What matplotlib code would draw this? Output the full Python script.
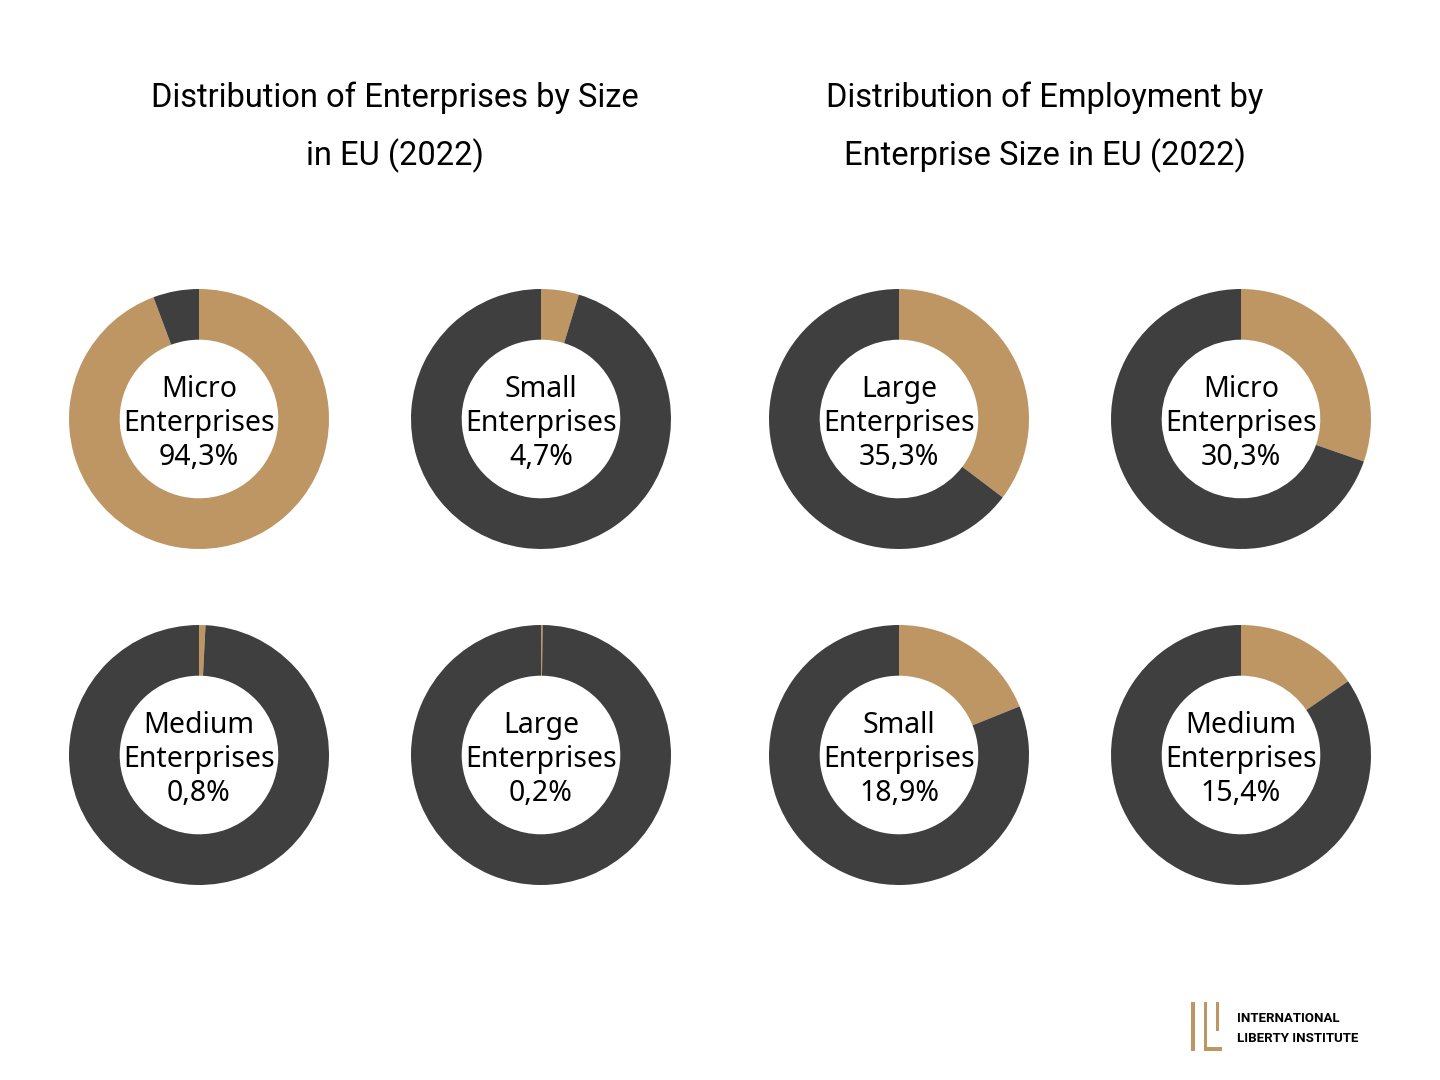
import matplotlib.pyplot as plt
from matplotlib.patches import Rectangle

# data
enterprise_labels = ['Micro\nEnterprises', 'Small\nEnterprises', 'Medium\nEnterprises', 'Large\nEnterprises']
enterprise_share = [94.3, 4.7, 0.8, 0.2]
employment_labels = ['Large\nEnterprises', 'Micro\nEnterprises', 'Small\nEnterprises', 'Medium\nEnterprises']
employment_share = [35.3, 30.3, 18.9, 15.4]
titles = ['Distribution of Enterprises by Size\nin EU (2022)',
          'Distribution of Employment by\nEnterprise Size in EU (2022)']

TAN = '#BD9664'
DARK = '#3F3F3F'
W, H = 1440, 1080

plt.rcParams['font.family'] = ['Noto Sans', 'DejaVu Sans']
fig = plt.figure(figsize=(W / 100, H / 100), dpi=100)
fig.patch.set_facecolor('white')


def donut(cx, cy, value, label):
  r = 130
  ax = fig.add_axes([(cx - r) / W, 1 - (cy + r) / H, 2 * r / W, 2 * r / H])
  ax.pie([value, 100 - value], colors=[TAN, DARK], startangle=90, counterclock=False,
         radius=1.0, wedgeprops=dict(width=0.39, linewidth=0))
  ax.set_xlim(-1, 1)
  ax.set_ylim(-1, 1)
  ax.set_aspect('equal')
  ax.axis('off')
  txt = label + '\n' + ('%.1f' % value).replace('.', ',') + '%'
  ax.text(0, -0.035, txt, ha='center', va='center', fontsize=20.5, linespacing=1.22,
          color='black')


xs_left = [199, 541]
xs_right = [899, 1241]
ys = [419, 755]
for i in range(4):
  donut(xs_left[i % 2], ys[i // 2], enterprise_share[i], enterprise_labels[i])
  donut(xs_right[i % 2], ys[i // 2], employment_share[i], employment_labels[i])

title_font = ['Roboto', 'DejaVu Sans']
fig.text(395 / W, 1 - 127 / H, titles[0], ha='center', va='center', fontsize=23.5,
         family=title_font, linespacing=1.9)
fig.text(1045 / W, 1 - 127 / H, titles[1], ha='center', va='center', fontsize=23.5,
         family=title_font, linespacing=1.9)

# logo
def px_rect(x0, y0, x1, y1):
  fig.patches.append(Rectangle((x0 / W, 1 - y1 / H), (x1 - x0) / W, (y1 - y0) / H,
                               transform=fig.transFigure, color=TAN, linewidth=0))

px_rect(1191, 1002, 1195, 1051)
px_rect(1204, 1002, 1207, 1051)
px_rect(1204, 1047, 1222, 1051)
px_rect(1216, 1002, 1219, 1031)
fig.text(1237 / W, 1 - 1018 / H, 'INTERNATIONAL', ha='left', va='center', fontsize=9.5,
         weight='bold', family=title_font)
fig.text(1237 / W, 1 - 1038 / H, 'LIBERTY INSTITUTE', ha='left', va='center', fontsize=9.5,
         weight='bold', family=title_font)

fig.savefig('out.png', dpi=100, facecolor='white')
